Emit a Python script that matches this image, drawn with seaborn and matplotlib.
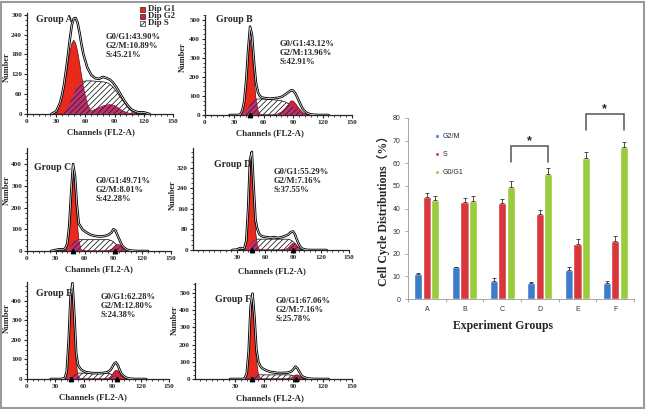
import numpy as np
import pandas as pd
import matplotlib
matplotlib.use("Agg")
import matplotlib.pyplot as plt
from matplotlib.patches import Rectangle
from matplotlib.ticker import MultipleLocator, AutoMinorLocator
import seaborn as sns

# ---- flow cytometry histograms ----
CH = [25, 30, 34, 36, 38, 40, 42, 44, 46, 48, 50, 52, 54, 56, 58, 62, 66, 70, 74, 78,
      82, 85, 88, 90, 92, 94, 96, 98, 100, 104, 108, 114, 120, 126]

A_TOTAL = [0, 8, 34, 58, 88, 130, 175, 225, 268, 288, 290, 275, 245, 210, 180, 140, 118, 108, 106, 112,
           108, 104, 96, 88, 80, 70, 60, 50, 40, 24, 12, 5, 5, 0]
A_G1 = [0, 6, 30, 50, 80, 115, 150, 185, 212, 223, 213, 189, 154, 117, 80, 30, 8, 2, 0, 0,
        0, 0, 0, 0, 0, 0, 0, 0, 0, 0, 0, 0, 0, 0]
A_S = [0, 0, 0, 0, 5, 12, 22, 35, 50, 62, 73, 82, 90, 96, 99, 100, 100, 99, 98, 97,
       95, 90, 82, 75, 67, 58, 50, 42, 34, 18, 7, 0, 0, 0]
A_G2 = [0, 0, 0, 0, 0, 0, 0, 0, 0, 0, 0, 0, 0, 1, 2, 5, 9, 14, 19, 24,
        27, 28, 27, 25, 22, 18, 14, 10, 7, 3, 1, 0, 0, 0]

B_TOTAL = [0, 0, 0, 3, 22, 70, 180, 340, 465, 420, 280, 170, 120, 100, 92, 88, 86, 88, 90, 95,
           108, 120, 130, 128, 115, 95, 72, 50, 30, 10, 3, 0, 0, 0]
B_G1 = [0, 0, 0, 2, 15, 55, 150, 300, 398, 340, 200, 85, 25, 6, 1, 0, 0, 0, 0, 0,
        0, 0, 0, 0, 0, 0, 0, 0, 0, 0, 0, 0, 0, 0]
B_S = [0, 0, 0, 0, 5, 12, 25, 40, 55, 68, 78, 83, 84, 84, 84, 83, 82, 80, 78, 75,
       68, 60, 50, 43, 36, 28, 20, 13, 7, 2, 0, 0, 0, 0]
B_G2 = [0, 0, 0, 0, 0, 0, 0, 0, 0, 0, 0, 0, 0, 0, 0, 0, 0, 0, 5, 15,
        35, 55, 74, 73, 62, 48, 34, 22, 12, 3, 0, 0, 0, 0]

C_TOTAL = [0, 5, 8, 8, 8, 12, 35, 115, 270, 400, 345, 210, 125, 112, 98, 85, 75, 70, 67, 67,
           70, 75, 85, 100, 95, 75, 55, 35, 20, 6, 2, 0, 0, 0]
C_G1 = [0, 0, 0, 0, 0, 3, 25, 95, 230, 343, 290, 150, 50, 10, 2, 0, 0, 0, 0, 0,
        0, 0, 0, 0, 0, 0, 0, 0, 0, 0, 0, 0, 0, 0]
C_S = [0, 0, 0, 0, 0, 0, 3, 10, 25, 38, 47, 51, 52, 52, 52, 52, 52, 52, 52, 52,
       52, 52, 48, 42, 34, 26, 18, 10, 4, 0, 0, 0, 0, 0]
C_G2 = [0, 0, 0, 0, 0, 0, 0, 0, 0, 0, 0, 0, 0, 0, 0, 0, 0, 0, 0, 0,
        0, 2, 8, 15, 24, 29, 29, 22, 14, 3, 0, 0, 0, 0]

D_TOTAL = [0, 2, 8, 5, 8, 35, 160, 350, 381, 240, 115, 80, 62, 55, 52, 50, 48, 50, 47, 50,
           55, 60, 70, 72, 62, 42, 25, 12, 5, 1, 0, 0, 0, 0]
D_G1 = [0, 0, 0, 0, 3, 30, 150, 320, 340, 200, 70, 15, 2, 0, 0, 0, 0, 0, 0, 0,
        0, 0, 0, 0, 0, 0, 0, 0, 0, 0, 0, 0, 0, 0]
D_S = [0, 0, 0, 0, 0, 3, 8, 18, 28, 36, 41, 42, 42, 42, 42, 42, 42, 42, 42, 42,
       42, 42, 38, 33, 26, 18, 10, 4, 0, 0, 0, 0, 0, 0]
D_G2 = [0, 0, 0, 0, 0, 0, 0, 0, 0, 0, 0, 0, 0, 0, 0, 0, 0, 0, 0, 0,
        2, 8, 20, 26, 25, 17, 9, 4, 1, 0, 0, 0, 0, 0]

E_TOTAL = [0, 0, 0, 0, 2, 5, 40, 200, 420, 491, 330, 130, 70, 55, 45, 35, 32, 30, 30, 30,
           32, 35, 45, 60, 78, 85, 70, 45, 25, 8, 2, 0, 0, 0]
E_G1 = [0, 0, 0, 0, 0, 2, 25, 140, 380, 450, 260, 80, 15, 2, 0, 0, 0, 0, 0, 0,
        0, 0, 0, 0, 0, 0, 0, 0, 0, 0, 0, 0, 0, 0]
E_S = [0, 0, 0, 0, 0, 0, 2, 6, 12, 18, 24, 28, 30, 30, 30, 30, 30, 30, 30, 30,
       30, 30, 26, 20, 14, 8, 3, 0, 0, 0, 0, 0, 0, 0]
E_G2 = [0, 0, 0, 0, 0, 0, 0, 0, 0, 0, 0, 0, 0, 0, 0, 0, 0, 0, 0, 0,
        0, 2, 10, 22, 36, 45, 42, 30, 17, 3, 0, 0, 0, 0]

F_TOTAL = [0, 0, 0, 0, 0, 5, 30, 160, 420, 496, 360, 170, 100, 75, 62, 50, 42, 38, 35, 35,
           36, 38, 45, 58, 72, 62, 42, 22, 12, 4, 1, 0, 0, 0]
F_G1 = [0, 0, 0, 0, 0, 2, 20, 120, 360, 455, 300, 110, 25, 4, 0, 0, 0, 0, 0, 0,
        0, 0, 0, 0, 0, 0, 0, 0, 0, 0, 0, 0, 0, 0]
F_S = [0, 0, 0, 0, 0, 0, 2, 5, 10, 15, 20, 23, 24, 24, 24, 24, 24, 24, 24, 24,
       24, 24, 22, 18, 13, 8, 4, 1, 0, 0, 0, 0, 0, 0]
F_G2 = [0, 0, 0, 0, 0, 0, 0, 0, 0, 0, 0, 0, 0, 0, 0, 0, 0, 0, 0, 0,
        0, 1, 8, 16, 23, 24, 18, 10, 4, 1, 0, 0, 0, 0]

# peak markers on the channel axis
TRI = {"A": [], "B": [46], "C": [48, 92], "D": [46, 90], "E": [47, 95], "F": [47, 93]}
STATS = {
    "A": ["G0/G1:43.90%", "G2/M:10.89%", "S:45.21%"],
    "B": ["G0/G1:43.12%", "G2/M:13.96%", "S:42.91%"],
    "C": ["G0/G1:49.71%", "G2/M:8.01%", "S:42.28%"],
    "D": ["G0/G1:55.29%", "G2/M:7.16%", "S:37.55%"],
    "E": ["G0/G1:62.28%", "G2/M:12.80%", "S:24.38%"],
    "F": ["G0/G1:67.06%", "G2/M:7.16%", "S:25.78%"],
}

# ---- bar chart ----
GROUPS = ["A", "B", "C", "D", "E", "F"]
PHASES = ["G2/M", "S", "G0/G1"]
G2M = [10.89, 13.96, 8.01, 7.16, 12.80, 7.16]
S_PHASE = [45.21, 42.91, 42.28, 37.55, 24.38, 25.78]
G0G1 = [43.90, 43.12, 49.71, 55.29, 62.28, 67.06]
G2M_ERR = [0.7, 0.4, 1.2, 0.4, 1.2, 0.7]
S_ERR = [1.8, 1.9, 2.0, 2.0, 2.0, 1.9]
G0G1_ERR = [1.5, 2.2, 2.6, 2.8, 2.5, 2.2]
SIG_PAIRS = [("C", "D"), ("E", "F")]
SIG_TOP = [67.6, 81.8]
SIG_DROP = [7.0, 7.1]

W, H = 646, 409
RED = "#e8291c"
G2RED = "#d0223a"
OVER = "#b8336e"
BAR_COLORS = ["#3d7cc9", "#d9363e", "#9acb3c"]

sns.set_style("ticks")
plt.rcParams["font.family"] = ["Liberation Serif", "DejaVu Serif"]
plt.rcParams["hatch.linewidth"] = 0.5

fig = plt.figure(figsize=(W / 100, H / 100), dpi=100)


def fx(px):
    return px / W


def fy(py):
    return 1 - py / H


def ftxt(px, py, s, **kw):
    fig.text(fx(px), fy(py), s, **kw)


def draw_panel(rect, total, g1, s, g2, tri, ymax, ystep, xmin):
    left, right, top, base = rect
    ax = fig.add_axes([fx(left), fy(base), (right - left) / W, (base - top) / H])
    x = np.array(CH, dtype=float)
    total, g1, s, g2 = (np.array(v, dtype=float) for v in (total, g1, s, g2))
    ax.fill_between(x, 0, total, color="white", lw=0, zorder=1)
    ax.fill_between(x, 0, s, facecolor="white", edgecolor="k", hatch="//////", lw=0, zorder=2)
    ax.plot(x, s, color="k", lw=0.5, zorder=2)
    ax.fill_between(x, 0, g1, facecolor=RED, edgecolor="none", zorder=3)
    ax.plot(x, g1, color="#5a0d0d", lw=0.5, zorder=3)
    ax.fill_between(x, 0, g2, facecolor=G2RED, edgecolor="none", zorder=3)
    ax.plot(x, g2, color="#5a0d0d", lw=0.5, zorder=3)
    over = np.maximum(np.minimum(g1, s), np.minimum(g2, s))
    ax.fill_between(x, 0, over, facecolor=OVER, edgecolor="#3a0a1e", hatch="//////", lw=0, zorder=4)
    sns.lineplot(x=x, y=total, color="k", lw=1.8, ax=ax, zorder=5)
    sns.lineplot(x=x, y=total, color="white", lw=0.5, ax=ax, zorder=6)
    if tri:
        ax.plot(tri, np.zeros(len(tri)), "^", color="k", ms=3.2, clip_on=False, zorder=7)
    ax.set_xlim(xmin, 150)
    ax.set_ylim(0, ymax)
    ax.set_xticks([t for t in range(0, 151, 30) if xmin == 0 or t > 0])
    ax.xaxis.set_minor_locator(MultipleLocator(6))
    ax.set_yticks(np.arange(0, ymax, ystep))
    ax.yaxis.set_minor_locator(AutoMinorLocator(4))
    ax.tick_params(which="major", labelsize=5.2, length=2.5, width=0.8, pad=1.0)
    ax.tick_params(which="minor", length=1.5, width=0.6)
    for lab in ax.get_xticklabels() + ax.get_yticklabels():
        lab.set_fontweight("bold")
    for sp in ("left", "bottom"):
        ax.spines[sp].set_linewidth(0.9)
    sns.despine(ax=ax)
    ax.set_xlabel("")
    ax.set_ylabel("")
    return ax


panels = [
    ("A", (27, 173, 13, 114), A_TOTAL, A_G1, A_S, A_G2, 305, 60, 0,
     (36, 20), (106, 37), (101, 132), (7, 67)),
    ("B", (205, 352, 15, 115), B_TOTAL, B_G1, B_S, B_G2, 526, 100, 0,
     (216, 19), (280, 44), (270, 133), (183, 57)),
    ("C", (27, 171, 148, 251), C_TOTAL, C_G1, C_S, C_G2, 474, 100, 0,
     (34, 168), (96, 181), (99, 269), (7, 190)),
    ("D", (193, 349, 148, 250), D_TOTAL, D_G1, D_S, D_G2, 396, 80, -17,
     (214, 164), (274, 172), (272, 271), (173, 195)),
    ("E", (27, 169, 282, 379), E_TOTAL, E_G1, E_S, E_G2, 497, 100, 0,
     (36, 294), (101, 297), (93, 397), (7, 318)),
    ("F", (195, 352, 283, 379), F_TOTAL, F_G1, F_S, F_G2, 558, 100, -11,
     (215, 299), (276, 301), (270, 398), (175, 320)),
]

for (name, rect, tot, g1, s, g2, ymax, ystep, xmin, gpos, spos, xlpos, ylpos) in panels:
    draw_panel(rect, tot, g1, s, g2, TRI[name], ymax, ystep, xmin)
    ftxt(gpos[0], gpos[1], f"Group {name}", fontsize=7, fontweight="bold", va="center")
    for i, line in enumerate(STATS[name]):
        ftxt(spos[0], spos[1] + i * 9, line, fontsize=6.2, fontweight="bold", va="center")
    ftxt(xlpos[0], xlpos[1], "Channels (FL2-A)", fontsize=6.3, fontweight="bold",
         ha="center", va="center")
    ftxt(ylpos[0], ylpos[1], "Number", fontsize=6, fontweight="bold",
         ha="center", va="center", rotation=90)

# ModFit legend in panel A
for i, (lab, fc, hatch) in enumerate([("Dip G1", RED, None), ("Dip G2", G2RED, None),
                                      ("Dip S", "white", "//////")]):
    py = 9 + i * 7
    fig.add_artist(Rectangle((fx(140), fy(py + 2.5)), 5 / W, 5 / H, transform=fig.transFigure,
                             facecolor=fc, edgecolor="k", lw=0.4, hatch=hatch))
    ftxt(148, py, lab, fontsize=6.3, fontweight="bold", va="center")

# ---- bar chart ----
bl, br, bt, bb = 408, 634, 118, 299
bax = fig.add_axes([fx(bl), fy(bb), (br - bl) / W, (bb - bt) / H])
df = pd.DataFrame({
    "group": GROUPS * 3,
    "phase": [p for p in PHASES for _ in GROUPS],
    "value": G2M + S_PHASE + G0G1,
})
sns.barplot(data=df, x="group", y="value", hue="phase", hue_order=PHASES, order=GROUPS,
            palette=BAR_COLORS, saturation=1, width=0.68, gap=0.05, errorbar=None, ax=bax)
green_x = {}
for ci, (cont, errs) in enumerate(zip(bax.containers, [G2M_ERR, S_ERR, G0G1_ERR])):
    for gi, (bar, e) in enumerate(zip(cont, errs)):
        cx = bar.get_x() + bar.get_width() / 2
        h = bar.get_height()
        bax.errorbar(cx, h, yerr=[[0], [e]], fmt="none", ecolor="#333333",
                     elinewidth=0.6, capsize=1.3, capthick=0.6, zorder=5)
        if ci == 2:
            green_x[GROUPS[gi]] = cx

for (g_a, g_b), ytop, drop in zip(SIG_PAIRS, SIG_TOP, SIG_DROP):
    xa, xb = green_x[g_a], green_x[g_b]
    bax.plot([xa, xa, xb, xb], [ytop - drop, ytop, ytop, ytop - drop], color="#555555",
             lw=1.1, clip_on=False, solid_joinstyle="miter")
    bax.text((xa + xb) / 2, ytop + 2.0, "*", ha="center", va="center", fontsize=9,
             fontweight="bold", family=["Liberation Sans"], clip_on=False)

bax.set_xlim(-0.5, 5.5)
bax.set_ylim(0, 80)
bax.set_yticks(range(0, 81, 10))
bax.set_xticks([-0.5 + i for i in range(7)], minor=True)
bax.tick_params(axis="x", which="major", length=0, pad=5)
bax.tick_params(axis="x", which="minor", length=2.5, width=0.5, color="#888888")
bax.tick_params(axis="y", length=2.5, width=0.5, color="#888888", pad=3)
for lab in bax.get_xticklabels() + bax.get_yticklabels():
    lab.set_family(["Liberation Sans"])
    lab.set_fontsize(5)
    lab.set_color("#333333")
for sp in ("left", "bottom"):
    bax.spines[sp].set_linewidth(0.6)
    bax.spines[sp].set_color("#999999")
sns.despine(ax=bax)
bax.set_xlabel("")
bax.set_ylabel("")
leg = bax.legend(loc="upper left", bbox_to_anchor=(fx(429), fy(127)), bbox_transform=fig.transFigure,
                 frameon=False, handlelength=0.6, handleheight=0.6, handletextpad=0.5,
                 labelspacing=1.6, prop={"family": "Liberation Sans", "size": 5})

ftxt(383, 208, "Cell Cycle Distributions（%）", rotation=90, ha="center", va="center",
     fontsize=8.5, fontweight="bold", family=["Liberation Serif", "Noto Sans CJK SC"])
ftxt(503, 326, "Experiment Groups", ha="center", va="center", fontsize=8.5, fontweight="bold")

# outer frame
fig.add_artist(Rectangle((0.002, 0.003), 0.995, 0.993, transform=fig.transFigure,
                         fill=False, edgecolor="#9a9a9a", lw=1.5))

fig.savefig("out.png", dpi=100)
